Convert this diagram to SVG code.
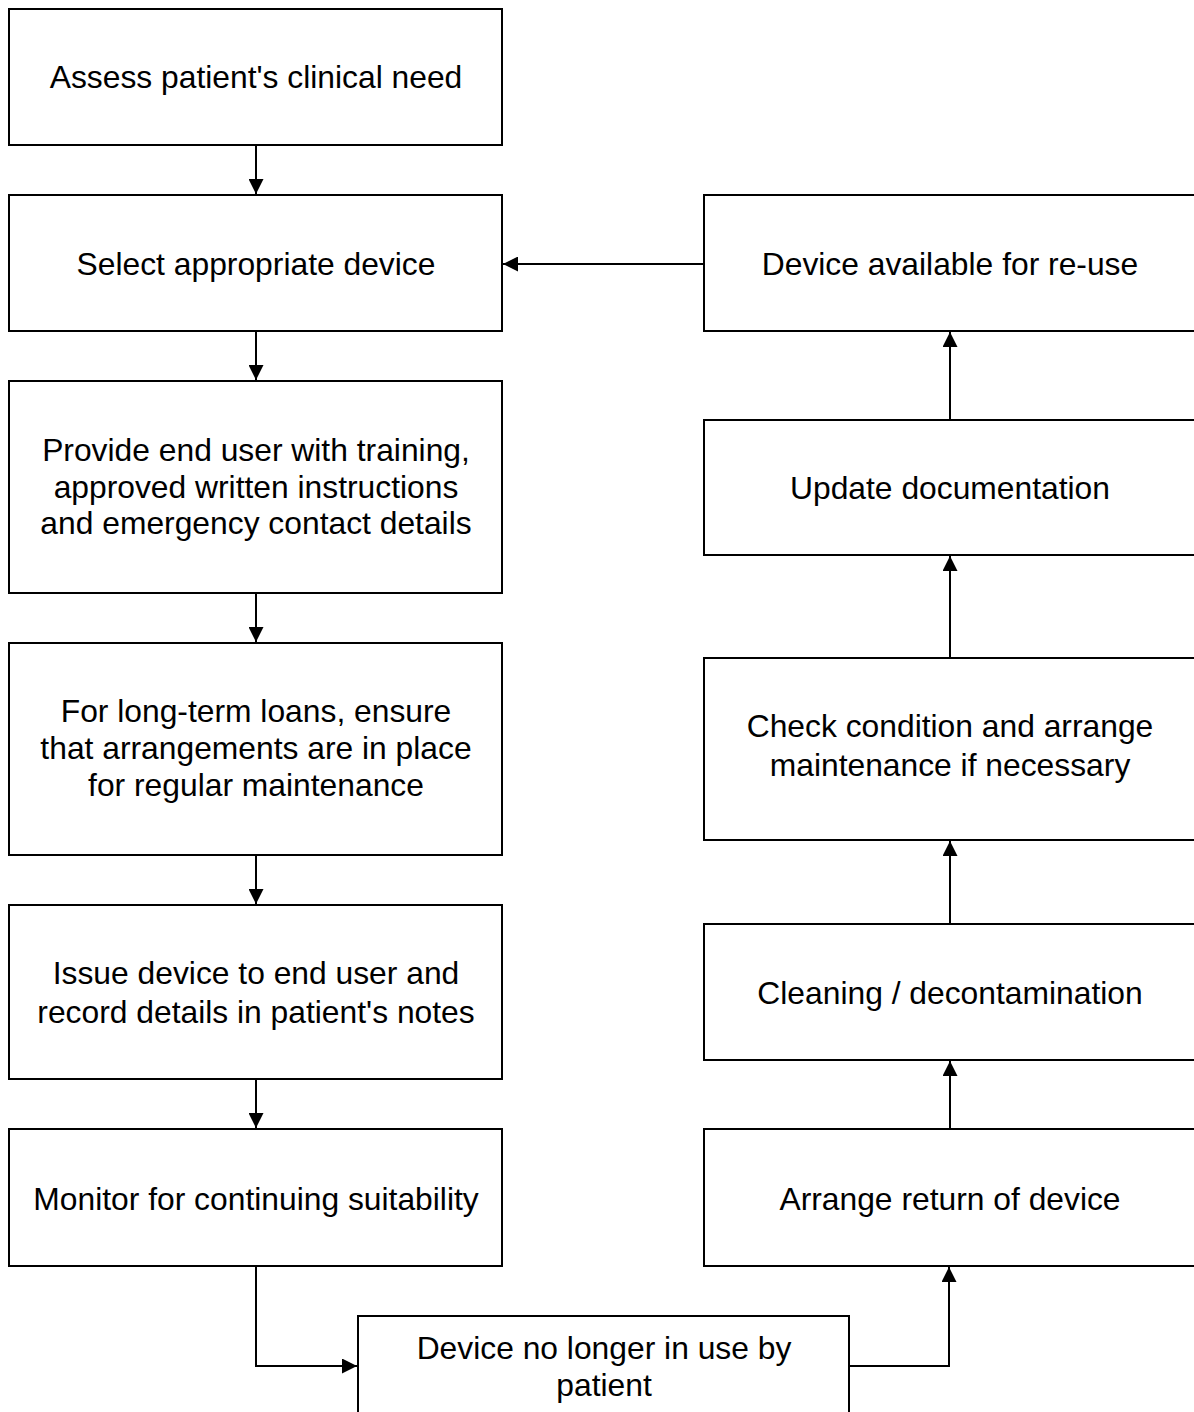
<svg xmlns="http://www.w3.org/2000/svg" width="1194" height="1412" viewBox="0 0 1194 1412">
<style>
.box{fill:#fff;stroke:#000;stroke-width:2}
.t{font-family:"Liberation Sans",Arial,sans-serif;font-size:31.8px;fill:#000;text-anchor:middle}
.c{fill:none;stroke:#000;stroke-width:2}
</style>
<defs>
<marker id="ah" markerWidth="15" markerHeight="15" refX="15" refY="7.5" orient="auto" markerUnits="userSpaceOnUse" viewBox="0 0 15 15">
<path d="M0,0 L15,7.5 L0,15 z" fill="#000"/>
</marker>
</defs>
<rect width="1194" height="1412" fill="#fff"/>
<g id="connectors">
<line class="c" x1="256" y1="145" x2="256" y2="194" marker-end="url(#ah)"/>
<line class="c" x1="256" y1="331" x2="256" y2="380" marker-end="url(#ah)"/>
<line class="c" x1="256" y1="593" x2="256" y2="642" marker-end="url(#ah)"/>
<line class="c" x1="256" y1="855" x2="256" y2="904" marker-end="url(#ah)"/>
<line class="c" x1="256" y1="1079" x2="256" y2="1128" marker-end="url(#ah)"/>
<polyline class="c" points="256,1266 256,1366 357,1366" marker-end="url(#ah)"/>
<polyline class="c" points="849,1366 949,1366 949,1267" marker-end="url(#ah)"/>
<line class="c" x1="950" y1="1129" x2="950" y2="1061" marker-end="url(#ah)"/>
<line class="c" x1="950" y1="924" x2="950" y2="841" marker-end="url(#ah)"/>
<line class="c" x1="950" y1="658" x2="950" y2="556" marker-end="url(#ah)"/>
<line class="c" x1="950" y1="420" x2="950" y2="332" marker-end="url(#ah)"/>
<line class="c" x1="704" y1="264" x2="503" y2="264" marker-end="url(#ah)"/>
</g>
<g id="n1"><rect class="box" x="9" y="9" width="493" height="136"/><text class="t" x="256" y="88">Assess patient's clinical need</text></g>
<g id="n2"><rect class="box" x="9" y="195" width="493" height="136"/><text class="t" x="256" y="275">Select appropriate device</text></g>
<g id="n3"><rect class="box" x="9" y="381" width="493" height="212"/><text class="t" x="256" y="461">Provide end user with training,</text><text class="t" x="256" y="498">approved written instructions</text><text class="t" x="256" y="534">and emergency contact details</text></g>
<g id="n4"><rect class="box" x="9" y="643" width="493" height="212"/><text class="t" x="256" y="722">For long-term loans, ensure</text><text class="t" x="256" y="759">that arrangements are in place</text><text class="t" x="256" y="796">for regular maintenance</text></g>
<g id="n5"><rect class="box" x="9" y="905" width="493" height="174"/><text class="t" x="256" y="984">Issue device to end user and</text><text class="t" x="256" y="1023">record details in patient's notes</text></g>
<g id="n6"><rect class="box" x="9" y="1129" width="493" height="137"/><text class="t" x="256" y="1210">Monitor for continuing suitability</text></g>
<g id="n7"><rect class="box" x="358" y="1316" width="491" height="110"/><text class="t" x="604" y="1359">Device no longer in use by</text><text class="t" x="604" y="1396">patient</text></g>
<g id="r1"><rect class="box" x="704" y="195" width="493" height="136"/><text class="t" x="950" y="275">Device available for re-use</text></g>
<g id="r2"><rect class="box" x="704" y="420" width="493" height="135"/><text class="t" x="950" y="499">Update documentation</text></g>
<g id="r3"><rect class="box" x="704" y="658" width="493" height="182"/><text class="t" x="950" y="737">Check condition and arrange</text><text class="t" x="950" y="776">maintenance if necessary</text></g>
<g id="r4"><rect class="box" x="704" y="924" width="493" height="136"/><text class="t" x="950" y="1004">Cleaning / decontamination</text></g>
<g id="r5"><rect class="box" x="704" y="1129" width="493" height="137"/><text class="t" x="950" y="1210">Arrange return of device</text></g>
</svg>
